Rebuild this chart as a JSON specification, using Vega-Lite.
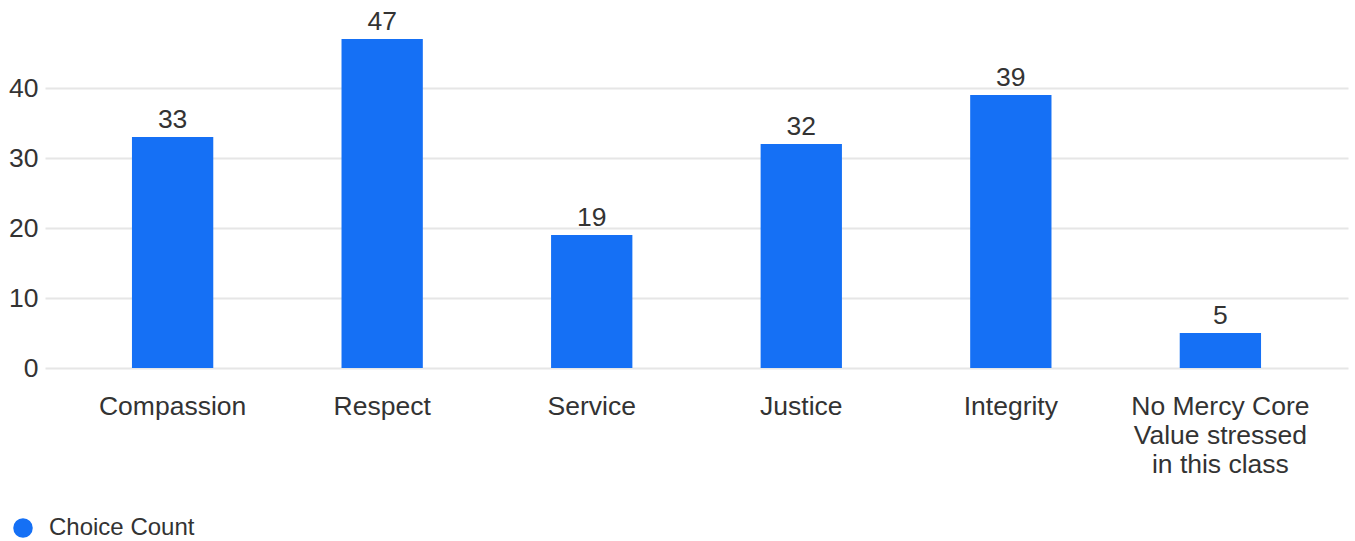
{
  "$schema": "https://vega.github.io/schema/vega-lite/v6.json",
  "width": 1303,
  "height": 350,
  "autosize": {"type": "none"},
  "padding": {"left": 45, "top": 18, "right": 7, "bottom": 173},
  "background": "white",
  "config": {
    "view": {"stroke": null},
    "font": "Liberation Sans",
    "text": {"font": "Liberation Sans"}
  },
  "data": {
    "values": [
      {"category": "Compassion", "count": 33},
      {"category": "Respect", "count": 47},
      {"category": "Service", "count": 19},
      {"category": "Justice", "count": 32},
      {"category": "Integrity", "count": 39},
      {"category": "No Mercy Core Value stressed in this class", "count": 5}
    ]
  },
  "encoding": {
    "x": {
      "field": "category",
      "type": "nominal",
      "sort": null,
      "scale": {"paddingInner": 0.612, "paddingOuter": 0.415},
      "axis": {
        "title": null,
        "labelAngle": 0,
        "labelFont": "Liberation Sans",
        "labelFontSize": 26.5,
        "labelColor": "#333333",
        "labelPadding": 25,
        "labelLineHeight": 29,
        "ticks": false,
        "domain": false,
        "labelLimit": 0,
        "labelExpr": "datum.label == 'No Mercy Core Value stressed in this class' ? ['No Mercy Core', 'Value stressed', 'in this class'] : datum.label"
      }
    },
    "y": {
      "field": "count",
      "type": "quantitative",
      "scale": {"domain": [0, 50], "nice": false},
      "axis": {
        "title": null,
        "values": [0, 10, 20, 30, 40],
        "labelFont": "Liberation Sans",
        "labelFontSize": 26.5,
        "labelColor": "#333333",
        "labelPadding": 7,
        "ticks": false,
        "domain": false,
        "gridColor": "#e6e6e6",
        "gridWidth": 2
      }
    }
  },
  "layer": [
    {
      "mark": {"type": "bar"},
      "encoding": {
        "color": {
          "datum": "Choice Count",
          "type": "nominal",
          "scale": {"range": ["#1570F5"]},
          "legend": {
            "title": null,
            "orient": "none",
            "legendX": -34,
            "legendY": 498,
            "symbolType": "circle",
            "symbolSize": 380,
            "symbolStrokeWidth": 0,
            "labelFont": "Liberation Sans",
            "labelFontSize": 24,
            "labelColor": "#333333",
            "labelOffset": 14
          }
        }
      }
    },
    {
      "mark": {"type": "text", "baseline": "alphabetic", "dy": -9, "fontSize": 26.5, "color": "#333333", "font": "Liberation Sans"},
      "encoding": {"text": {"field": "count", "type": "quantitative"}}
    }
  ]
}
